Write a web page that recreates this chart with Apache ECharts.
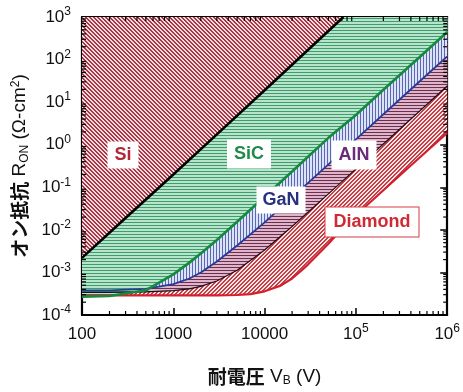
<!DOCTYPE html>
<html><head><meta charset="utf-8">
<script src="https://cdn.jsdelivr.net/npm/echarts@6/dist/echarts.min.js"></script>
<style>html,body{margin:0;padding:0;background:#fff}#c{width:463px;height:392px}</style>
</head><body><div id="c"></div>
<script>
// ---- data ----
const siV  = [100, 300, 1000, 3000, 10000, 30000, 73000];
const siR  = [2.2e-3, 0.019, 0.2, 1.75, 19, 170, 1000];
const vGrid = [100, 200, 500, 1000, 1500, 2000, 3000, 5000, 10000, 20000, 50000, 100000, 200000, 500000, 1000000];
const sicR = [2.7e-4, 2.8e-4, 3.8e-4, 9.0e-4, 1.7e-3, 2.8e-3, 5.8e-3, 0.0155, 0.06, 0.235, 1.45, 5.0, 19.5, 115, 444];
const ganR = [3.8e-4, 3.8e-4, 4.1e-4, 5.3e-4, 7.2e-4, 1.0e-3, 1.8e-3, 4.3e-3, 0.015, 0.058, 0.345, 1.34, 5.2, 31, 119];
const alnR = [3.4e-4, 3.4e-4, 3.5e-4, 3.75e-4, 4.1e-4, 4.7e-4, 6.3e-4, 1.12e-3, 3.35e-3, 0.012, 0.07, 0.27, 1.04, 6.2, 24];
const diaV = [100, 1000, 3000, 5000, 7000, 10000, 15000, 20000, 25000, 30000, 40000, 50000, 70000, 100000, 200000, 500000, 1000000];
const diaR = [2.9e-4, 2.9e-4, 2.9e-4, 2.95e-4, 3.1e-4, 3.6e-4, 4.9e-4, 7.2e-4, 1.08e-3, 1.55e-3, 2.9e-3, 4.7e-3, 0.0105, 0.022, 0.085, 0.5, 1.9];
const xTickLabels = ['100', '1000', '10000', '10^5', '10^6'];
const yTickLabels = ['10^-4', '10^-3', '10^-2', '10^-1', '10^0', '10^1', '10^2', '10^3'];
const materialNames = ['Si', 'SiC', 'GaN', 'AlN', 'Diamond'];

const X_MIN = 100, X_MAX = 1e6, Y_MIN = 1e-4, Y_MAX = 1e3;
const pair = (xs, ys) => xs.map((x, i) => [x, ys[i]]);

function pattern(size, light, dark, test) {
  const c = document.createElement('canvas');
  c.width = size; c.height = size;
  const g = c.getContext('2d');
  g.fillStyle = light; g.fillRect(0, 0, size, size);
  g.fillStyle = dark;
  for (let y = 0; y < size; y++) for (let x = 0; x < size; x++) if (test(x, y)) g.fillRect(x, y, 1, 1);
  return { image: c, repeat: 'repeat' };
}
const patSi  = pattern(4, '#f2dcdd', '#a83646', (x, y) => ((x - y + 8) % 4) < 2);
const patSiC = pattern(3, '#b8e4cc', '#3f9c6c', (x, y) => y === 0);
const patGaN = pattern(3, '#dde2f5', '#5868b8', (x, y) => x === 0);
const patAlN = pattern(3, '#dfb6c9', '#6e2e50', (x, y) => y === 0);
const patDia = pattern(4, '#f9e8e8', '#c83c46', (x, y) => ((x + y) % 4) < 2);

function supRich(base) {
  return {
    b: { fontSize: base, fontFamily: 'Liberation Sans', color: '#111', lineHeight: 20 },
    sup: { fontSize: 12, fontFamily: 'Liberation Sans', color: '#111', lineHeight: 12, padding: [0, 0, 10, 0] }
  };
}
function fmtTick(s) {
  const parts = s.split('^');
  return parts.length === 1 ? '{b|' + s + '}' : '{b|' + parts[0] + '}{sup|' + parts[1] + '}';
}
function labelFor(v, labels, minExp) {
  const e = Math.round(Math.log10(v));
  return fmtTick(labels[e - minExp] || '');
}

const xMinor = [], yMinor = [];
for (let e = 2; e < 6; e++) for (let k = 2; k <= 9; k++) xMinor.push(k * Math.pow(10, e));
for (let e = -4; e < 3; e++) for (let k = 2; k <= 9; k++) yMinor.push(k * Math.pow(10, e));

const areaSeries = (name, xs, ys, pat, z) => ({
  type: 'line', name: name + '_area', data: pair(xs, ys), showSymbol: false, silent: true,
  lineStyle: { width: 0 }, areaStyle: { color: pat, opacity: 1, origin: 'end' }, z: z
});
const lineSeries = (name, xs, ys, color, w, z) => ({
  type: 'line', name: name, data: pair(xs, ys), showSymbol: false, silent: true,
  lineStyle: { color: color, width: w }, z: z
});

const axisCommonX = {
  type: 'log', logBase: 10, min: X_MIN, max: X_MAX,
  axisLine: { show: true, lineStyle: { color: '#000', width: 2.2 } },
  axisTick: { show: true, inside: true, length: 7, lineStyle: { color: '#000', width: 1.5 } },
  splitLine: { show: false }
};
const axisCommonY = {
  type: 'log', logBase: 10, min: Y_MIN, max: Y_MAX,
  axisLine: { show: true, lineStyle: { color: '#000', width: 2.2 } },
  axisTick: { show: true, inside: true, length: 7, lineStyle: { color: '#000', width: 1.5 } },
  splitLine: { show: false }
};

const chart = echarts.init(document.getElementById('c'), null, { renderer: 'canvas' });
chart.setOption({
  animation: false,
  backgroundColor: '#fff',
  grid: { left: 82, right: 15, top: 17, bottom: 69, containLabel: false },
  xAxis: [
    Object.assign({}, axisCommonX, {
      position: 'bottom',
      axisLabel: { margin: 9, formatter: v => labelFor(v, xTickLabels, 2), rich: supRich(17) },
      name: '{j|耐電圧} {r|V}{sub|B}{r| (V)}', nameLocation: 'middle', nameGap: 51,
      nameTextStyle: {
        fontSize: 19, rich: {
          j: { fontFamily: 'Noto Sans CJK JP', fontWeight: 'bold', fontSize: 19, color: '#111' },
          r: { fontFamily: 'Liberation Sans', fontSize: 19, color: '#111' },
          sub: { fontFamily: 'Liberation Sans', fontSize: 12, color: '#111', padding: [9, 0, 0, 0] }
        }
      }
    }),
    Object.assign({}, axisCommonX, { position: 'top', axisLabel: { show: false } })
  ],
  yAxis: [
    Object.assign({}, axisCommonY, {
      position: 'left',
      axisLabel: { margin: 11, formatter: v => labelFor(v, yTickLabels, -4), rich: supRich(17) },
      name: '{j|オン抵抗} {r|R}{sub|ON}{r| (Ω-cm}{sup|2}{r|)}', nameLocation: 'middle', nameGap: 44,
      nameTextStyle: {
        fontSize: 19, rich: {
          j: { fontFamily: 'Noto Sans CJK JP', fontWeight: 'bold', fontSize: 19, color: '#111' },
          r: { fontFamily: 'Liberation Sans', fontSize: 19, color: '#111' },
          sub: { fontFamily: 'Liberation Sans', fontSize: 12, color: '#111', padding: [9, 0, 0, 0] },
          sup: { fontFamily: 'Liberation Sans', fontSize: 12, color: '#111', padding: [0, 0, 9, 0] }
        }
      }
    }),
    Object.assign({}, axisCommonY, { position: 'right', axisLabel: { show: false } })
  ],
  series: [
    areaSeries('Diamond', diaV, diaR, patDia, 1),
    areaSeries('AlN', vGrid, alnR, patAlN, 2),
    areaSeries('GaN', vGrid, ganR, patGaN, 3),
    areaSeries('SiC', vGrid, sicR, patSiC, 4),
    areaSeries('Si', siV, siR, patSi, 5),
    lineSeries('AlN', vGrid, alnR, '#1a0f1a', 1.2, 10),
    lineSeries('GaN', vGrid, ganR, '#283a98', 1.8, 11),
    lineSeries('Diamond', diaV, diaR, '#d4202c', 2.2, 12),
    lineSeries('SiC', vGrid, sicR, '#138a3c', 2.6, 13),
    lineSeries('Si', siV, siR, '#000', 2.6, 14),
    {
      type: 'custom', silent: true, z: 30, data: xMinor.map(v => [v, Y_MIN]),
      renderItem: (p, api) => {
        const a = api.coord([api.value(0), Y_MIN]), b = api.coord([api.value(0), Y_MAX]);
        const st = { stroke: '#000', lineWidth: 1.2 };
        return { type: 'group', children: [
          { type: 'line', shape: { x1: a[0], y1: a[1], x2: a[0], y2: a[1] - 4 }, style: st },
          { type: 'line', shape: { x1: b[0], y1: b[1], x2: b[0], y2: b[1] + 4 }, style: st }
        ] };
      }
    },
    {
      type: 'custom', silent: true, z: 30, data: yMinor.map(v => [X_MIN, v]),
      renderItem: (p, api) => {
        const a = api.coord([X_MIN, api.value(1)]), b = api.coord([X_MAX, api.value(1)]);
        const st = { stroke: '#000', lineWidth: 1.2 };
        return { type: 'group', children: [
          { type: 'line', shape: { x1: a[0], y1: a[1], x2: a[0] + 4, y2: a[1] }, style: st },
          { type: 'line', shape: { x1: b[0], y1: b[1], x2: b[0] - 4, y2: b[1] }, style: st }
        ] };
      }
    }
  ],
  graphic: [
    { type: 'text', x: 123, y: 155, z: 50, style: { text: materialNames[0], align: 'center', verticalAlign: 'middle', font: 'bold 18px "Liberation Sans"', fill: '#b0283a', backgroundColor: '#fff', padding: [5, 7, 4, 7] } },
    { type: 'text', x: 249, y: 154, z: 50, style: { text: materialNames[1], align: 'center', verticalAlign: 'middle', font: 'bold 18px "Liberation Sans"', fill: '#1f8a4a', backgroundColor: '#fff', padding: [6, 7, 5, 7] } },
    { type: 'text', x: 281, y: 200, z: 50, style: { text: materialNames[2], align: 'center', verticalAlign: 'middle', font: 'bold 18px "Liberation Sans"', fill: '#283080', backgroundColor: '#fff', padding: [5, 6, 4, 6] } },
    { type: 'text', x: 354, y: 155, z: 50, style: { text: materialNames[3], align: 'center', verticalAlign: 'middle', font: 'bold 18px "Liberation Sans"', fill: '#6b2a7a', backgroundColor: '#fff', padding: [6, 7, 5, 7] } },
    { type: 'text', x: 372, y: 222, z: 50, style: { text: materialNames[4], align: 'center', verticalAlign: 'middle', font: 'bold 18px "Liberation Sans"', fill: '#d02a35', backgroundColor: '#fff', borderColor: '#d83a44', borderWidth: 1, padding: [6, 8, 5, 8] } }
  ]
});
</script></body></html>
